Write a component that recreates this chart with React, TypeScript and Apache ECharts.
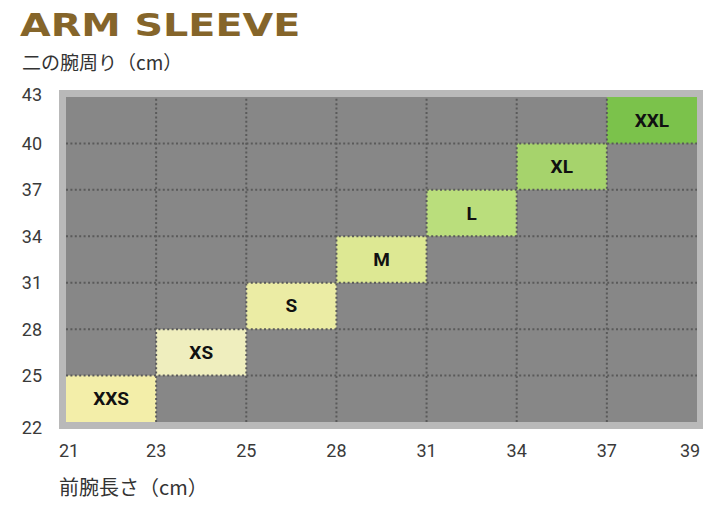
import React, { useEffect, useRef } from "react";
import * as echarts from "echarts";

// ---- data ----
const sizes = ["XXS", "XS", "S", "M", "L", "XL", "XXL"];
const forearmTicks = [21, 23, 25, 28, 31, 34, 37, 39]; // 前腕長さ (cm)
const bicepTicks = [22, 25, 28, 31, 34, 37, 40, 43]; // 二の腕周り (cm)
const forearmMin = [21, 23, 25, 28, 31, 34, 37];
const forearmMax = [23, 25, 28, 31, 34, 37, 39];
const bicepMin = [22, 25, 28, 31, 34, 37, 40];
const bicepMax = [25, 28, 31, 34, 37, 40, 43];
const sizeColors = ["#f3eea9", "#efeebe", "#ebeca4", "#dde893", "#bade7c", "#a6d36c", "#7bc24b"];

const TITLE = "ARM SLEEVE";
const Y_NAME = "二の腕周り（cm）";
const X_NAME = "前腕長さ（cm）";

export default function App() {
  const ref = useRef<HTMLDivElement>(null);

  useEffect(() => {
    if (!ref.current) return;
    const chart = echarts.init(ref.current, undefined, { renderer: "svg" });

    const cells = sizes.map((_, i) => [
      forearmTicks.indexOf(forearmMin[i]),
      forearmTicks.indexOf(forearmMax[i]),
      bicepTicks.indexOf(bicepMin[i]),
      bicepTicks.indexOf(bicepMax[i]),
    ]);
    const xLast = forearmTicks.length - 1;
    const yLast = bicepTicks.length - 1;
    const vLines = forearmTicks.map((_, i) => i).slice(1, -1).map((i) => [i, 0]);
    const hLines = bicepTicks.map((_, i) => i).slice(1, -1).map((i) => [0, i]);

    const labelFont = { fontFamily: "Roboto", fontSize: 18, color: "#3a3a3a" };
    const dotted = { stroke: "#5a5a5a", lineWidth: 2, lineDash: [2, 2.4] };

    chart.setOption({
      animation: false,
      backgroundColor: "#ffffff",
      grid: {
        left: 66,
        top: 97,
        width: 631,
        height: 325,
        show: true,
        backgroundColor: "#878787",
        borderWidth: 0,
      },
      graphic: [
        {
          type: "rect",
          z: -1,
          shape: { x: 59, y: 90, width: 644, height: 339 },
          style: { fill: "#b9b9b9" },
          silent: true,
        },
        {
          type: "text",
          x: 20,
          y: 9,
          scaleX: 1.24,
          style: {
            text: TITLE,
            font: '900 32px "DejaVu Sans"',
            fill: "#85652a",
          },
        },
        {
          type: "text",
          x: 22,
          y: 52,
          style: {
            text: Y_NAME,
            font: '19px "Noto Sans CJK JP"',
            fill: "#333333",
          },
        },
        {
          type: "text",
          x: 59,
          y: 476,
          style: {
            text: X_NAME,
            font: '20px "Noto Sans CJK JP"',
            fill: "#333333",
          },
        },
      ],
      xAxis: {
        type: "value",
        min: 0,
        max: xLast,
        interval: 1,
        axisLine: { show: false },
        axisTick: { show: false },
        splitLine: { show: false },
        axisLabel: {
          margin: 19,
          ...labelFont,
          formatter: (v: number) => {
            const i = Math.round(v);
            const t = forearmTicks[i];
            if (i === 0) return `{first|${t}}`;
            if (i === xLast) return `{last|${t}}`;
            return `{n|${t}}`;
          },
          rich: {
            n: { ...labelFont },
            first: { ...labelFont, padding: [0, 0, 0, 6] },
            last: { ...labelFont, padding: [0, 14, 0, 0] },
          },
        },
      },
      yAxis: {
        type: "value",
        min: 0,
        max: yLast,
        interval: 1,
        axisLine: { show: false },
        axisTick: { show: false },
        splitLine: { show: false },
        axisLabel: {
          margin: 24,
          align: "right",
          ...labelFont,
          formatter: (v: number) => {
            const i = Math.round(v);
            const t = bicepTicks[i];
            if (i === 0) return `{first|${t}}`;
            if (i === yLast) return `{last|${t}}`;
            return `{n|${t}}`;
          },
          rich: {
            n: { ...labelFont },
            first: { ...labelFont, padding: [10, 0, 0, 0] },
            last: { ...labelFont, padding: [0, 0, 6, 0] },
          },
        },
      },
      series: [
        {
          type: "custom",
          name: "sizes",
          z: 2,
          data: cells,
          encode: { x: [0, 1], y: [2, 3] },
          renderItem: (params: any, api: any) => {
            const p0 = api.coord([api.value(0), api.value(3)]);
            const p1 = api.coord([api.value(1), api.value(2)]);
            return {
              type: "rect",
              shape: { x: p0[0], y: p0[1], width: p1[0] - p0[0], height: p1[1] - p0[1] },
              style: { fill: sizeColors[params.dataIndex] },
              textContent: {
                style: {
                  text: sizes[params.dataIndex],
                  font: 'bold 19px Roboto',
                  fill: "#111111",
                },
              },
              textConfig: { position: "inside" },
            };
          },
        },
        {
          type: "custom",
          name: "vlines",
          z: 3,
          silent: true,
          data: vLines,
          encode: { x: 0, y: 1 },
          renderItem: (_p: any, api: any) => {
            const a = api.coord([api.value(0), 0]);
            const b = api.coord([api.value(0), yLast]);
            return {
              type: "line",
              shape: { x1: a[0], y1: a[1], x2: b[0], y2: b[1] },
              style: dotted,
            };
          },
        },
        {
          type: "custom",
          name: "hlines",
          z: 3,
          silent: true,
          data: hLines,
          encode: { x: 0, y: 1 },
          renderItem: (_p: any, api: any) => {
            const a = api.coord([0, api.value(1)]);
            const b = api.coord([xLast, api.value(1)]);
            return {
              type: "line",
              shape: { x1: a[0], y1: a[1], x2: b[0], y2: b[1] },
              style: dotted,
            };
          },
        },
      ],
    });

    return () => chart.dispose();
  }, []);

  return (
    <div
      ref={ref}
      style={{ position: "fixed", left: 0, top: 0, width: 722, height: 518 }}
    />
  );
}
